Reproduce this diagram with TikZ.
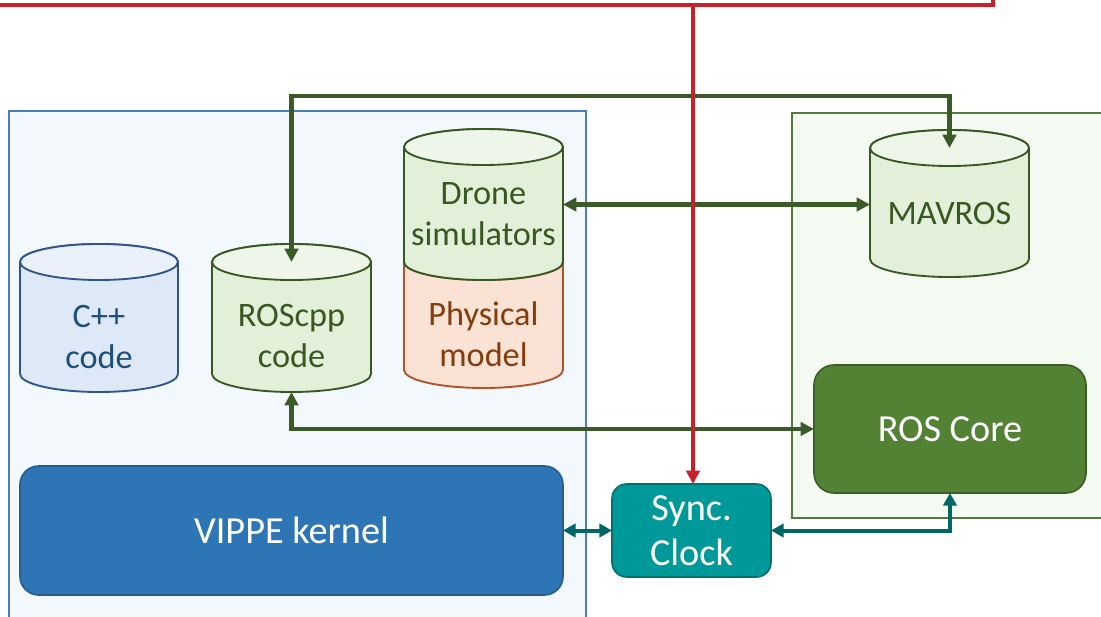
\documentclass[tikz,border=0pt]{standalone}
\usepackage{fontspec}
\setmainfont{Carlito}
\usetikzlibrary{arrows.meta,calc}
\definecolor{redc}{RGB}{200,32,42}
\definecolor{lbfill}{RGB}{243,248,252}
\definecolor{lbdraw}{RGB}{74,126,187}
\definecolor{rgfill}{RGB}{244,249,241}
\definecolor{rgdraw}{RGB}{84,120,60}
\definecolor{cppbody}{RGB}{221,233,246}
\definecolor{cpptop}{RGB}{234,241,250}
\definecolor{cppdraw}{RGB}{47,85,140}
\definecolor{cpptext}{RGB}{31,78,121}
\definecolor{gbody}{RGB}{226,239,217}
\definecolor{gtop}{RGB}{238,246,234}
\definecolor{gdraw}{RGB}{56,87,35}
\definecolor{gtext}{RGB}{56,87,35}
\definecolor{obody}{RGB}{250,226,212}
\definecolor{odraw}{RGB}{176,84,40}
\definecolor{otext}{RGB}{132,60,12}
\definecolor{roscorefill}{RGB}{84,130,53}
\definecolor{roscoredraw}{RGB}{60,94,38}
\definecolor{vippefill}{RGB}{46,117,182}
\definecolor{vippedraw}{RGB}{40,90,145}
\definecolor{syncfill}{RGB}{0,153,153}
\definecolor{syncdraw}{RGB}{0,112,112}
\definecolor{garrow}{RGB}{58,90,39}
\definecolor{tarrow}{RGB}{0,102,102}

% cylinder: #1 x left, #2 y top, #3 x right, #4 y bottom (pixels), #5 body style, #6 top fill
\newcommand\drawcyl[6]{%
  \pgfmathsetmacro\cylcx{(#1+#3)/2}%
  \pgfmathsetmacro\cylrx{(#3-#1)/2}%
  \path[#5] (#1,{-(#2)-18}) -- (#1,{-(#4)+18})
     arc[start angle=180,end angle=360,x radius=\cylrx,y radius=18]
     -- (#3,{-(#2)-18})
     arc[start angle=0,end angle=180,x radius=\cylrx,y radius=18] -- cycle;
  \path[#5,fill=#6] (\cylcx,{-(#2)-18}) ellipse[x radius=\cylrx,y radius=18];
}

\begin{document}
\begin{tikzpicture}[x=0.75pt,y=0.75pt,
  area/.style={inner sep=0pt,outer sep=0pt,anchor=north west,line width=1.1pt},
  region/.style={inner sep=0pt,outer sep=0pt,anchor=north west},
  cyltxt/.style={align=center,inner sep=0pt,font=\fontsize{25.7}{31}\selectfont},
  boxnode/.style={draw,line width=1.2pt,inner sep=0pt,outer sep=0pt,text=white,align=center,
     font=\fontsize{28.7}{34}\selectfont},
  cppcyl/.style={draw=cppdraw,fill=cppbody,line width=1.4pt},
  grcyl/.style={draw=gdraw,fill=gbody,line width=1.4pt},
  orcyl/.style={draw=odraw,fill=obody,line width=1.4pt},
  gline/.style={draw=garrow,line width=3.2pt,
     {Triangle[length=10pt,width=10pt]}-{Triangle[length=10pt,width=10pt]}},
  tline/.style={draw=tarrow,line width=3pt,
     {Triangle[length=9.5pt,width=10pt]}-{Triangle[length=9.5pt,width=10pt]}},
  rline/.style={draw=redc,line width=2.6pt,-{Triangle[length=10pt,width=10pt]}}
]
\useasboundingbox (0,0) rectangle (1101,-617);
\clip (0,0) rectangle (1101,-617);

% containers
\node[area,draw=lbdraw,fill=lbfill,minimum width=432.75pt,minimum height=389.25pt] (simarea) at (9,-111) {};
\node[area,draw=rgdraw,fill=rgfill,minimum width=238.5pt,minimum height=303.75pt] (rosarea) at (792,-113) {};

% cylinders
\drawcyl{20}{244}{178}{392}{cppcyl}{cpptop}
\drawcyl{212}{244}{371}{392}{grcyl}{gtop}
\drawcyl{404}{244}{563}{388}{orcyl}{obody}
\drawcyl{404}{129}{563}{280}{grcyl}{gtop}
\drawcyl{870}{130}{1029}{277}{grcyl}{gtop}

% cylinder regions (named)
\node[region,minimum width=118.5pt,minimum height=111pt] (cpp) at (20,-244) {};
\node[region,minimum width=119.25pt,minimum height=111pt] (roscpp) at (212,-244) {};
\node[region,minimum width=119.25pt,minimum height=113.25pt] (drone) at (404,-129) {};
\node[region,minimum width=119.25pt,minimum height=108pt] (physical) at (404,-244) {};
\node[region,minimum width=119.25pt,minimum height=110.25pt] (mavros) at (870,-130) {};

% cylinder texts
\node[cyltxt,text=cpptext] (cpp-t) at (99,-337) {C++\\code};
\node[cyltxt,text=gtext] (roscpp-t) at (291.5,-336) {ROScpp\\code};
\node[cyltxt,text=gtext] (drone-t) at (483.5,-214) {Drone\\simulators};
\node[cyltxt,text=otext] (physical-t) at (483.5,-334) {Physical\\model};
\node[cyltxt,text=gtext] (mavros-t) at (949.5,-213.5) {MAVROS};

% boxes
\node[boxnode,draw=roscoredraw,fill=roscorefill,rounded corners=15pt,
      minimum width=204pt,minimum height=96pt] (roscore) at (950,-429) {ROS Core};
\node[boxnode,draw=vippedraw,fill=vippefill,rounded corners=14pt,
      minimum width=407.25pt,minimum height=96.75pt] (vippe) at (291.5,-530.5) {VIPPE kernel};
\node[boxnode,draw=syncdraw,fill=syncfill,rounded corners=11pt,
      minimum width=119.25pt,minimum height=69.75pt] (sync) at (691.5,-530.5) {Sync.\\Clock};

% green connectors
\coordinate (topbend) at (620,-96);
\draw[gline] ([yshift=-13.5pt]roscpp.north) |- (topbend) -| ([yshift=-13.5pt]mavros.north);
\draw[gline] (drone.east) -- (drone.east -| mavros.west);
\draw[gline] (roscpp.south) |- (roscore.west);

% teal connectors
\draw[tline] (vippe.east) -- (sync.west);
\draw[tline] (sync.east) -| (roscore.south);

% red frame and connector
\coordinate (redcorner) at (993,-5);
\coordinate (redtop) at (693,-5);
\draw[redc,line width=3.5pt] (-10,-5) -- (redcorner) -- ++(0,15);
\draw[rline] (redtop) -- (redtop |- sync.north);
\end{tikzpicture}
\end{document}
